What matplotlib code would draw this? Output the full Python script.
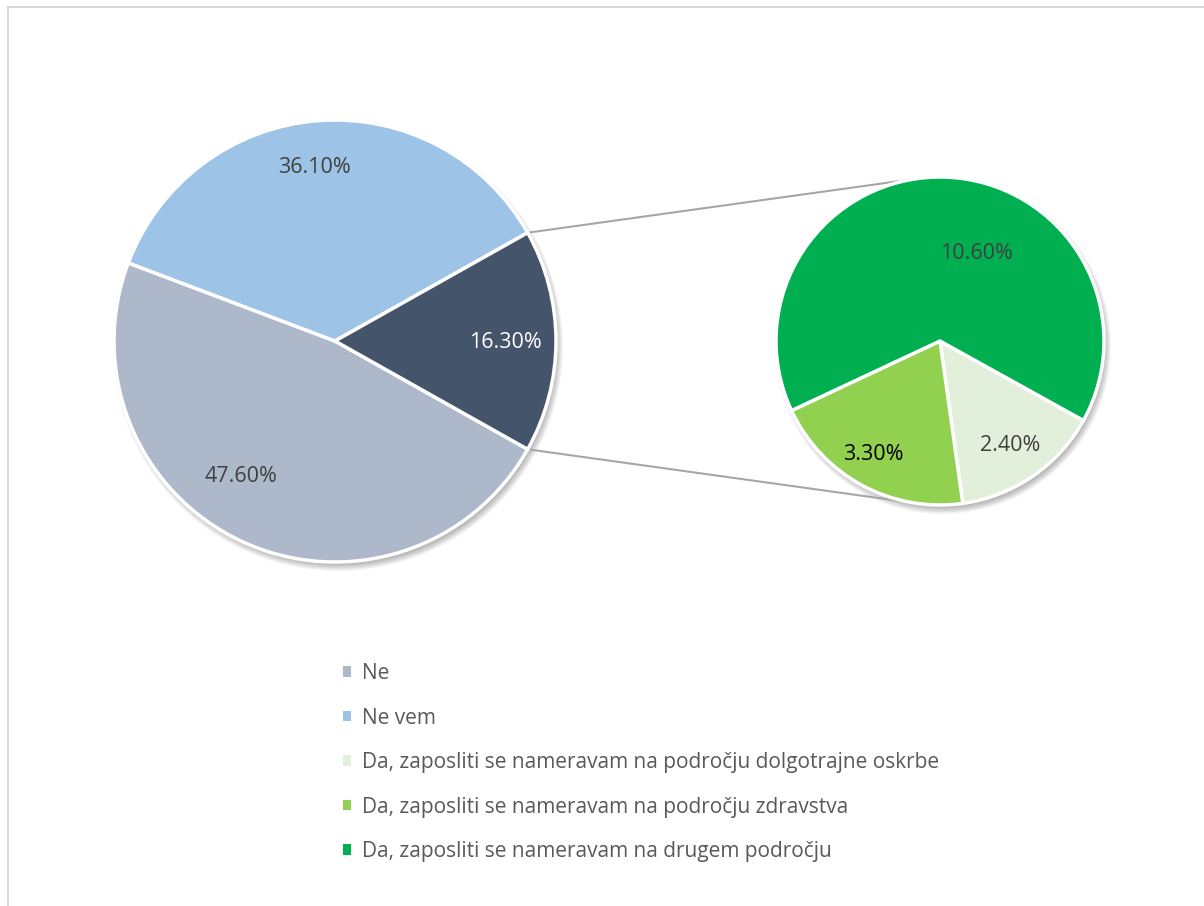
import numpy as np
import matplotlib.pyplot as plt
from matplotlib.patches import Circle, Rectangle, Patch

plt.rcParams['font.family'] = ['Open Sans', 'DejaVu Sans']

# main pie
main_labels = ['Ne', 'Ne vem', 'Da']
main_values = [47.6, 36.1, 16.3]
main_colors = ['#ADB9CA', '#9DC3E6', '#44546A']
main_text_colors = ['#404040', '#404040', '#ffffff']

# breakdown of the "Da" slice
sub_labels = ['Da, zaposliti se nameravam na področju dolgotrajne oskrbe',
              'Da, zaposliti se nameravam na področju zdravstva',
              'Da, zaposliti se nameravam na drugem področju']
sub_values = [2.4, 3.3, 10.6]
sub_colors = ['#E2EFDA', '#92D050', '#00B050']
sub_text_colors = ['#404040', '#000000', '#404040']

W, H = 1204, 906
fig = plt.figure(figsize=(W / 100, H / 100), dpi=100)
ax = fig.add_axes([0, 0, 1, 1])

c1, r1 = (335, 565), 221
c2, r2 = (940, 565), 164


def shadow(center, r):
    # soft drop shadow under a pie
    for k in range(8):
        ax.add_patch(Circle((center[0] + 3, center[1] - 5), r + 4 - k,
                            facecolor='#000000', alpha=0.04, linewidth=0, zorder=1))


shadow(c1, r1)
shadow(c2, r2)

half = main_values[2] / sum(main_values) * 180
wedges1, _ = ax.pie(main_values, colors=main_colors, center=c1, radius=r1,
                    startangle=-half, counterclock=False, frame=True,
                    wedgeprops=dict(edgecolor='white', linewidth=2.5, zorder=2))

wedges2, _ = ax.pie(sub_values, colors=sub_colors, center=c2, radius=r2,
                    startangle=-29, counterclock=False, frame=True,
                    wedgeprops=dict(edgecolor='white', linewidth=2.5, zorder=2))
ax.set_xlim(0, W)
ax.set_ylim(0, H)
ax.set_aspect('equal')
ax.axis('off')

# chart frame (only top and left edges fall inside the image)
ax.add_patch(Rectangle((8, -20), W + 40, H - 7 + 20, fill=False,
                       edgecolor='#D9D9D9', linewidth=1.5))


def put_labels(wedges, values, center, r, dists, shifts, colors):
    for w, v, d, s, col in zip(wedges, values, dists, shifts, colors):
        a = np.deg2rad((w.theta1 + w.theta2) / 2 + s)
        ax.text(center[0] + d * r * np.cos(a), center[1] + d * r * np.sin(a) - 2,
                f'{v:.2f}%', ha='center', va='center', fontsize=15.5,
                color=col, zorder=5)


put_labels(wedges1, main_values, c1, r1, [0.74, 0.80, 0.77], [-10, 2.5, 0], main_text_colors)
put_labels(wedges2, sub_values, c2, r2, [0.76, 0.79, 0.59], [0, -2.5, -20], sub_text_colors)

# connector lines from the "Da" slice to the breakdown pie
da = wedges1[2]
for ang in [da.theta1, da.theta2]:
    t = np.deg2rad(ang)
    sign = 1 if np.sin(t) > 0 else -1
    p = np.array([c1[0] + r1 * np.cos(t), c1[1] + r1 * np.sin(t)])
    cp = np.array(c2) - p
    d = np.hypot(*cp)
    base = np.arctan2(cp[1], cp[0])
    direction = base + sign * np.arcsin(r2 / d)
    q = p + np.sqrt(d ** 2 - r2 ** 2) * np.array([np.cos(direction), np.sin(direction)])
    ax.plot([p[0], q[0]], [p[1], q[1]], color='#A6A6A6', linewidth=1.5, zorder=1.5)

handles = [Patch(facecolor=c, edgecolor='none') for c in [main_colors[0], main_colors[1]] + sub_colors]
names = main_labels[:2] + sub_labels
fig.legend(handles, names, loc='upper left', bbox_to_anchor=(343 / W, 1 - 663 / H),
           frameon=False, fontsize=15, labelcolor='#595959', handlelength=0.4,
           handleheight=0.4, handletextpad=0.5, labelspacing=1.13,
           borderpad=0, borderaxespad=0)

fig.savefig('out.png', dpi=100, facecolor='white')
